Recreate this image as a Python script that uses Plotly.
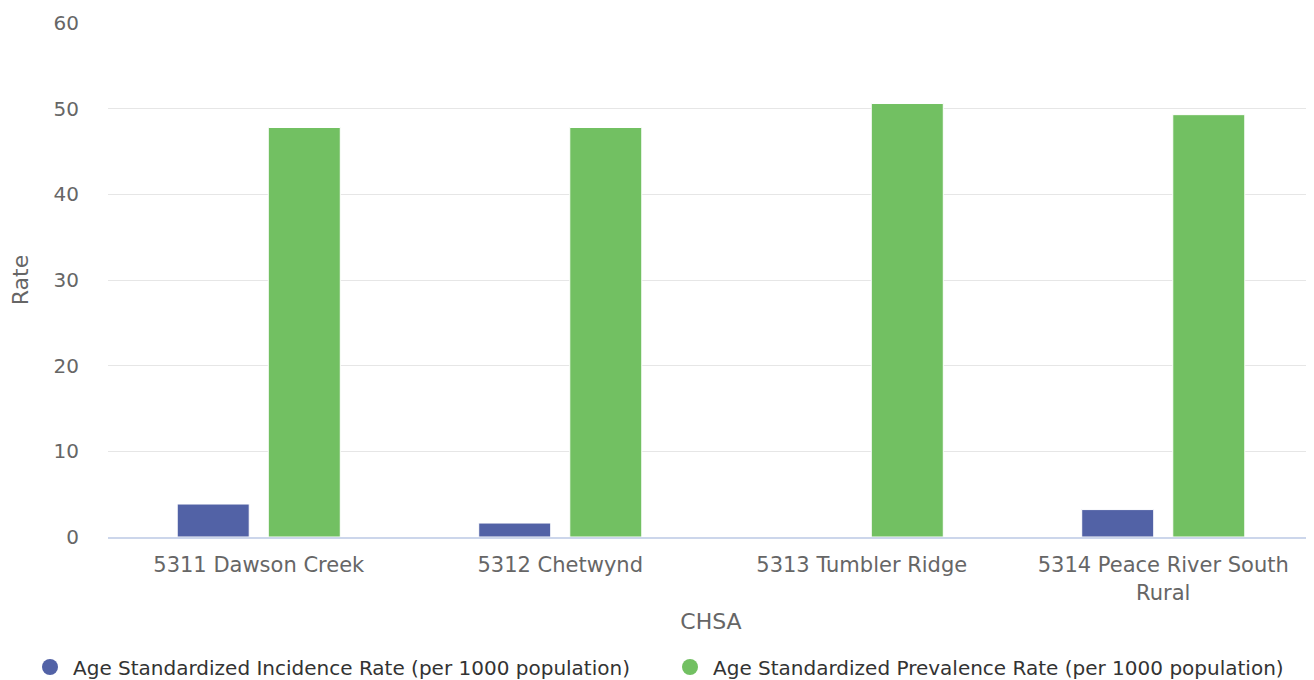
import plotly.graph_objects as go

categories = ["5311 Dawson Creek", "5312 Chetwynd", "5313 Tumbler Ridge", "5314 Peace River South<br>Rural"]
incidence = [3.85, 1.63, None, 3.2]
prevalence = [47.8, 47.8, 50.6, 49.3]
series_names = ["Age Standardized Incidence Rate (per 1000 population)",
                "Age Standardized Prevalence Rate (per 1000 population)"]
colors = ["#5262a6", "#72c062"]
y_ticks = [0, 10, 20, 30, 40, 50, 60]

FONT = "DejaVu Sans"
W = 1306

fig = go.Figure()
for vals, name, col, lg in zip([incidence, prevalence], series_names, colors, ["legend", "legend2"]):
    fig.add_trace(go.Bar(x=categories, y=vals, name=name, marker=dict(color=col, line=dict(color="white", width=1)),
                         showlegend=False))
    fig.add_trace(go.Scatter(x=[None], y=[None], mode="markers", name=name, legend=lg,
                             marker=dict(color=col, size=16, symbol="circle"), showlegend=True))

leg_common = dict(orientation="h", xref="container", yref="container", xanchor="left",
                  y=0.0193, yanchor="middle", font=dict(size=20, color="#333333"), itemwidth=36)

fig.update_layout(
    width=W, height=672,
    margin=dict(l=100, r=0, t=15, b=143),
    plot_bgcolor="white", paper_bgcolor="white",
    barmode="group", bargap=0.396, bargroupgap=0.209,
    font=dict(family=FONT, color="#666666", size=20),
    legend=dict(x=19 / W, **leg_common),
    legend2=dict(x=659 / W, **leg_common),
    xaxis=dict(title=dict(text="CHSA", font=dict(size=22, color="#666666"), standoff=10),
               showline=True, linecolor="#ccd6eb", linewidth=2, ticks="",
               tickfont=dict(size=21, color="#666666"), ticklabelstandoff=8),
    yaxis=dict(title=dict(text="Rate", font=dict(size=22, color="#666666"), standoff=20),
               range=[0, 60], tickvals=y_ticks, gridcolor="#e6e6e6", gridwidth=1,
               zeroline=False, tickfont=dict(size=20, color="#666666"), ticks="",
               ticklabelstandoff=28),
)
fig.write_html("out.html")
